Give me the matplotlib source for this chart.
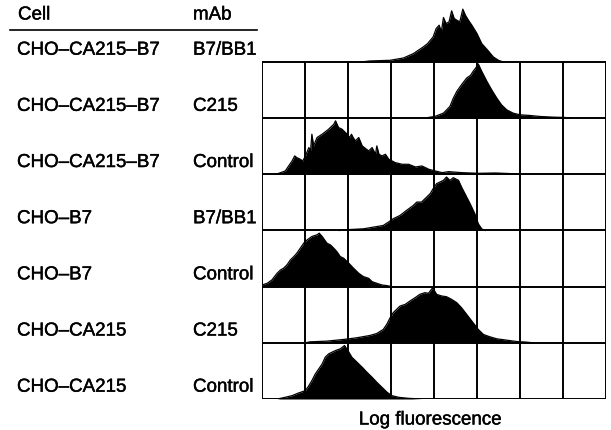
import matplotlib.pyplot as plt
import matplotlib.patheffects as pe

plt.rcParams['font.family'] = ['Liberation Sans', 'DejaVu Sans']

# Row labels (top to bottom)
cells = ['CHO–CA215–B7', 'CHO–CA215–B7', 'CHO–CA215–B7', 'CHO–B7', 'CHO–B7',
         'CHO–CA215', 'CHO–CA215']
mabs = ['B7/BB1', 'C215', 'Control', 'B7/BB1', 'Control', 'C215', 'Control']

# Histograms: x in grid decades (0-8), counts
h1_x = [2.3, 2.51, 2.98, 3.29, 3.52, 3.75, 3.85, 3.98, 4.05, 4.12, 4.17, 4.22, 4.28,
        4.35, 4.41, 4.47, 4.53, 4.6, 4.67, 4.73, 4.8, 4.88, 5.0, 5.11, 5.25, 5.38, 5.5, 5.61]
h1_y = [0, 3, 5, 12, 25, 45, 55, 75, 100, 110, 90, 133, 115, 120, 153, 130, 125, 120,
        158, 140, 125, 110, 85, 55, 35, 15, 5, 0]

h2_x = [3.8, 3.91, 4.02, 4.22, 4.37, 4.45, 4.53, 4.64, 4.76, 4.85, 4.91, 4.97, 5.03,
        5.11, 5.23, 5.34, 5.46, 5.57, 5.69, 5.84, 6.0, 6.23, 6.47, 6.77, 7.05, 7.2]
h2_y = [0, 3, 5, 15, 35, 60, 80, 100, 120, 128, 140, 150, 162, 140, 110, 85, 60, 40,
        25, 15, 10, 8, 5, 3, 2, 0]

h3_x = [0.3, 0.39, 0.54, 0.62, 0.70, 0.76, 0.81, 0.89, 0.95, 1.01, 1.09, 1.13, 1.16,
        1.20, 1.28, 1.40, 1.55, 1.67, 1.71, 1.78, 1.86, 1.98, 2.04, 2.08, 2.12, 2.17,
        2.25, 2.33, 2.48, 2.56, 2.64, 2.67, 2.72, 2.79, 2.87, 2.95, 3.10, 3.26, 3.41,
        3.57, 3.72, 3.88, 4.03, 4.19, 4.34, 4.65, 5.04, 5.43, 5.81, 6.0]
h3_y = [0, 3, 10, 25, 40, 55, 50, 45, 40, 55, 80, 70, 120, 85, 110, 120, 135, 150,
        160, 140, 135, 120, 110, 120, 110, 100, 110, 85, 70, 80, 60, 85, 60, 55, 60,
        45, 35, 30, 30, 22, 25, 15, 10, 5, 8, 5, 3, 4, 2, 0]

h4_x = [1.8, 2.05, 2.36, 2.59, 2.82, 2.94, 3.05, 3.21, 3.36, 3.52, 3.60, 3.71, 3.83,
        3.91, 3.98, 4.06, 4.14, 4.22, 4.29, 4.37, 4.45, 4.57, 4.64, 4.72, 4.84, 4.95,
        5.03, 5.11, 5.19]
h4_y = [0, 3, 5, 10, 15, 25, 35, 45, 60, 75, 85, 85, 100, 110, 125, 140, 145, 150,
        160, 150, 158, 150, 130, 110, 80, 50, 20, 5, 0]

h5_x = [0.0, 0.12, 0.23, 0.35, 0.43, 0.50, 0.58, 0.66, 0.74, 0.81, 0.89, 0.97, 1.05,
        1.16, 1.28, 1.33, 1.40, 1.51, 1.59, 1.67, 1.74, 1.82, 1.90, 2.02, 2.13, 2.25,
        2.36, 2.48, 2.56, 2.67, 2.79, 2.91, 3.02]
h5_y = [5, 10, 20, 40, 50, 55, 65, 80, 90, 100, 115, 130, 140, 150, 155, 160, 150,
        130, 125, 115, 105, 90, 85, 70, 55, 40, 30, 25, 15, 10, 5, 3, 0]

h6_x = [1.0, 1.12, 1.50, 1.89, 2.20, 2.51, 2.67, 2.82, 2.90, 2.98, 3.05, 3.13, 3.21,
        3.33, 3.44, 3.56, 3.67, 3.79, 3.87, 3.97, 4.06, 4.18, 4.29, 4.41, 4.53, 4.64,
        4.76, 4.91, 5.03, 5.15, 5.30, 5.46, 5.69, 5.92, 6.16, 6.3]
h6_y = [0, 3, 5, 10, 15, 22, 28, 40, 55, 75, 90, 100, 110, 115, 125, 135, 145, 150,
        148, 165, 145, 140, 138, 130, 120, 105, 85, 60, 40, 25, 18, 12, 8, 4, 2, 0]

h7_x = [0.35, 0.47, 0.70, 0.85, 1.01, 1.09, 1.16, 1.24, 1.32, 1.40, 1.47, 1.55, 1.63,
        1.71, 1.82, 1.92, 2.02, 2.09, 2.21, 2.33, 2.44, 2.56, 2.67, 2.79, 2.91, 3.02,
        3.18, 3.41, 3.72]
h7_y = [0, 3, 10, 18, 25, 40, 55, 75, 90, 105, 125, 135, 140, 145, 150, 160, 140,
        125, 110, 95, 80, 65, 50, 35, 20, 10, 5, 2, 0]

hists = [(h1_x, h1_y), (h2_x, h2_y), (h3_x, h3_y), (h4_x, h4_y),
         (h5_x, h5_y), (h6_x, h6_y), (h7_x, h7_y)]

W, H = 611, 431
fig = plt.figure(figsize=(W / 100, H / 100), dpi=100)

# grid panel: x 262..606 px, row baselines every ~56 px, bottom at 400 px
row_px = 56.17
ax = fig.add_axes([262 / W, (H - 400) / H, 344 / W, 7 * row_px / H])
ax.set_xlim(0, 8)
ax.set_ylim(0, 7)
ax.axis('off')

n_cols, n_rows = 8, 6
for i in range(n_cols + 1):
    ax.plot([i, i], [0, n_rows], color='black', lw=1.4, solid_capstyle='projecting')
for j in range(n_rows + 1):
    ax.plot([0, n_cols], [j, j], color='black', lw=1.4, solid_capstyle='projecting')

scale = 168.0  # counts per row height
for k, (xs, ys) in enumerate(hists):
    base = 6 - k
    top = [base + v / scale for v in ys]
    ax.fill_between(xs, base, top, color='black', lw=0)
    ax.plot(xs, top, color='black', lw=0.9)

# labels (slight stroke to mimic the heavy print)
fs = 13.5
heavy = [pe.withStroke(linewidth=0.3, foreground='black')]
fig.text(18 / W, 1 - 16 / H, 'Cell', fontsize=fs, va='center', ha='left',
         path_effects=heavy)
fig.text(193 / W, 1 - 16 / H, 'mAb', fontsize=fs, va='center', ha='left',
         path_effects=heavy)
fig.add_artist(plt.Line2D([10 / W, 257 / W], [1 - 31 / H, 1 - 31 / H],
                          color='black', lw=1.2))

for k in range(len(cells)):
    yc = 6 - k + 0.21
    yfig = (H - 400 + yc * row_px) / H
    fig.text(17 / W, yfig, cells[k], fontsize=fs, va='center', ha='left',
             path_effects=heavy)
    fig.text(193 / W, yfig, mabs[k], fontsize=fs, va='center', ha='left',
             path_effects=heavy)

fig.text(430 / W, 1 - 421 / H, 'Log fluorescence', fontsize=fs, va='center',
         ha='center', path_effects=heavy)

fig.savefig('out.png', dpi=100)
